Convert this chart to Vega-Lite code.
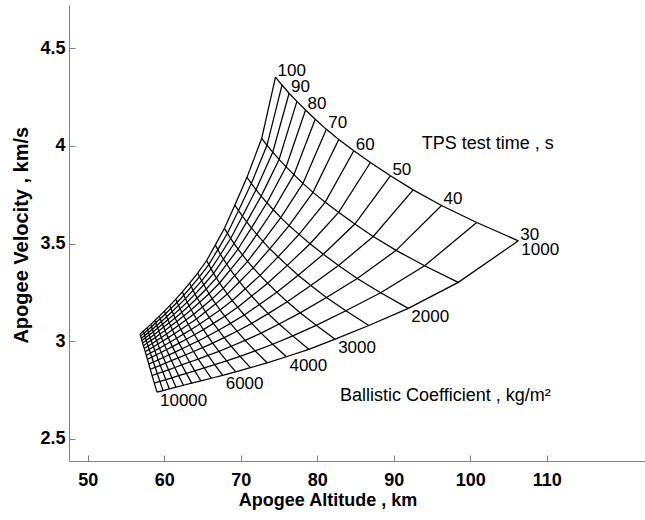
{
"$schema":"https://vega.github.io/schema/vega-lite/v6.json",
"width":576,"height":456,
"autosize":{"type":"none"},
"padding":{"left":69,"top":5,"right":0,"bottom":59},
"background":"white",
"config":{"view":{"stroke":null},"font":"Liberation Sans"},
"datasets":{
"grid":[
{"t":100,"b":1000,"x":74.55,"y":4.353},{"t":100,"b":1500,"x":72.75,"y":4.039},{"t":100,"b":2000,"x":70.82,"y":3.839},{"t":100,"b":2500,"x":69.25,"y":3.697},{"t":100,"b":3000,"x":67.88,"y":3.578},{"t":100,"b":3500,"x":66.68,"y":3.492},{"t":100,"b":4000,"x":65.55,"y":3.413},{"t":100,"b":4500,"x":64.38,"y":3.349},{"t":100,"b":5000,"x":63.33,"y":3.297},{"t":100,"b":5500,"x":62.38,"y":3.252},{"t":100,"b":6000,"x":61.52,"y":3.215},{"t":100,"b":6500,"x":60.73,"y":3.182},{"t":100,"b":7000,"x":60.03,"y":3.154},{"t":100,"b":7500,"x":59.37,"y":3.128},{"t":100,"b":8000,"x":58.78,"y":3.106},{"t":100,"b":8500,"x":58.25,"y":3.086},{"t":100,"b":9000,"x":57.75,"y":3.068},{"t":100,"b":9500,"x":57.28,"y":3.052},{"t":100,"b":10000,"x":56.84,"y":3.036},
{"t":95,"b":1000,"x":75.40,"y":4.312},{"t":95,"b":1500,"x":73.44,"y":4.003},{"t":95,"b":2000,"x":71.39,"y":3.808},{"t":95,"b":2500,"x":69.72,"y":3.669},{"t":95,"b":3000,"x":68.27,"y":3.553},{"t":95,"b":3500,"x":67.01,"y":3.469},{"t":95,"b":4000,"x":65.83,"y":3.392},{"t":95,"b":4500,"x":64.62,"y":3.330},{"t":95,"b":5000,"x":63.55,"y":3.279},{"t":95,"b":5500,"x":62.57,"y":3.235},{"t":95,"b":6000,"x":61.69,"y":3.199},{"t":95,"b":6500,"x":60.88,"y":3.167},{"t":95,"b":7000,"x":60.17,"y":3.140},{"t":95,"b":7500,"x":59.49,"y":3.115},{"t":95,"b":8000,"x":58.89,"y":3.094},{"t":95,"b":8500,"x":58.35,"y":3.074},{"t":95,"b":9000,"x":57.85,"y":3.057},{"t":95,"b":9500,"x":57.37,"y":3.041},{"t":95,"b":10000,"x":56.92,"y":3.026},
{"t":90,"b":1000,"x":76.33,"y":4.270},{"t":90,"b":1500,"x":74.19,"y":3.968},{"t":90,"b":2000,"x":72.00,"y":3.776},{"t":90,"b":2500,"x":70.23,"y":3.640},{"t":90,"b":3000,"x":68.69,"y":3.526},{"t":90,"b":3500,"x":67.36,"y":3.444},{"t":90,"b":4000,"x":66.13,"y":3.370},{"t":90,"b":4500,"x":64.89,"y":3.309},{"t":90,"b":5000,"x":63.78,"y":3.260},{"t":90,"b":5500,"x":62.78,"y":3.218},{"t":90,"b":6000,"x":61.88,"y":3.183},{"t":90,"b":6500,"x":61.05,"y":3.152},{"t":90,"b":7000,"x":60.32,"y":3.125},{"t":90,"b":7500,"x":59.63,"y":3.101},{"t":90,"b":8000,"x":59.02,"y":3.080},{"t":90,"b":8500,"x":58.46,"y":3.061},{"t":90,"b":9000,"x":57.95,"y":3.044},{"t":90,"b":9500,"x":57.46,"y":3.029},{"t":90,"b":10000,"x":57.00,"y":3.014},
{"t":85,"b":1000,"x":77.35,"y":4.228},{"t":85,"b":1500,"x":75.02,"y":3.931},{"t":85,"b":2000,"x":72.68,"y":3.743},{"t":85,"b":2500,"x":70.79,"y":3.611},{"t":85,"b":3000,"x":69.15,"y":3.500},{"t":85,"b":3500,"x":67.75,"y":3.420},{"t":85,"b":4000,"x":66.46,"y":3.347},{"t":85,"b":4500,"x":65.18,"y":3.289},{"t":85,"b":5000,"x":64.03,"y":3.241},{"t":85,"b":5500,"x":63.01,"y":3.200},{"t":85,"b":6000,"x":62.08,"y":3.166},{"t":85,"b":6500,"x":61.23,"y":3.136},{"t":85,"b":7000,"x":60.48,"y":3.110},{"t":85,"b":7500,"x":59.78,"y":3.087},{"t":85,"b":8000,"x":59.15,"y":3.067},{"t":85,"b":8500,"x":58.58,"y":3.048},{"t":85,"b":9000,"x":58.05,"y":3.032},{"t":85,"b":9500,"x":57.56,"y":3.017},{"t":85,"b":10000,"x":57.09,"y":3.003},
{"t":80,"b":1000,"x":78.48,"y":4.184},{"t":80,"b":1500,"x":75.94,"y":3.893},{"t":80,"b":2000,"x":73.43,"y":3.709},{"t":80,"b":2500,"x":71.41,"y":3.580},{"t":80,"b":3000,"x":69.66,"y":3.472},{"t":80,"b":3500,"x":68.18,"y":3.394},{"t":80,"b":4000,"x":66.83,"y":3.324},{"t":80,"b":4500,"x":65.50,"y":3.267},{"t":80,"b":5000,"x":64.32,"y":3.221},{"t":80,"b":5500,"x":63.26,"y":3.181},{"t":80,"b":6000,"x":62.30,"y":3.148},{"t":80,"b":6500,"x":61.43,"y":3.119},{"t":80,"b":7000,"x":60.66,"y":3.094},{"t":80,"b":7500,"x":59.93,"y":3.072},{"t":80,"b":8000,"x":59.29,"y":3.052},{"t":80,"b":8500,"x":58.71,"y":3.034},{"t":80,"b":9000,"x":58.17,"y":3.018},{"t":80,"b":9500,"x":57.66,"y":3.004},{"t":80,"b":10000,"x":57.18,"y":2.990},
{"t":75,"b":1000,"x":79.74,"y":4.137},{"t":75,"b":1500,"x":76.96,"y":3.853},{"t":75,"b":2000,"x":74.27,"y":3.673},{"t":75,"b":2500,"x":72.11,"y":3.547},{"t":75,"b":3000,"x":70.24,"y":3.442},{"t":75,"b":3500,"x":68.66,"y":3.366},{"t":75,"b":4000,"x":67.24,"y":3.298},{"t":75,"b":4500,"x":65.86,"y":3.243},{"t":75,"b":5000,"x":64.64,"y":3.199},{"t":75,"b":5500,"x":63.54,"y":3.161},{"t":75,"b":6000,"x":62.55,"y":3.129},{"t":75,"b":6500,"x":61.65,"y":3.101},{"t":75,"b":7000,"x":60.85,"y":3.077},{"t":75,"b":7500,"x":60.11,"y":3.055},{"t":75,"b":8000,"x":59.45,"y":3.037},{"t":75,"b":8500,"x":58.85,"y":3.019},{"t":75,"b":9000,"x":58.30,"y":3.004},{"t":75,"b":9500,"x":57.77,"y":2.991},{"t":75,"b":10000,"x":57.28,"y":2.977},
{"t":70,"b":1000,"x":81.20,"y":4.085},{"t":70,"b":1500,"x":78.14,"y":3.808},{"t":70,"b":2000,"x":75.24,"y":3.633},{"t":70,"b":2500,"x":72.91,"y":3.511},{"t":70,"b":3000,"x":70.90,"y":3.409},{"t":70,"b":3500,"x":69.22,"y":3.336},{"t":70,"b":4000,"x":67.72,"y":3.270},{"t":70,"b":4500,"x":66.28,"y":3.217},{"t":70,"b":5000,"x":65.00,"y":3.175},{"t":70,"b":5500,"x":63.86,"y":3.138},{"t":70,"b":6000,"x":62.84,"y":3.108},{"t":70,"b":6500,"x":61.90,"y":3.081},{"t":70,"b":7000,"x":61.08,"y":3.058},{"t":70,"b":7500,"x":60.31,"y":3.037},{"t":70,"b":8000,"x":59.63,"y":3.019},{"t":70,"b":8500,"x":59.01,"y":3.003},{"t":70,"b":9000,"x":58.44,"y":2.988},{"t":70,"b":9500,"x":57.90,"y":2.975},{"t":70,"b":10000,"x":57.40,"y":2.962},
{"t":65,"b":1000,"x":82.82,"y":4.033},{"t":65,"b":1500,"x":79.45,"y":3.762},{"t":65,"b":2000,"x":76.32,"y":3.592},{"t":65,"b":2500,"x":73.80,"y":3.473},{"t":65,"b":3000,"x":71.64,"y":3.375},{"t":65,"b":3500,"x":69.85,"y":3.304},{"t":65,"b":4000,"x":68.26,"y":3.241},{"t":65,"b":4500,"x":66.74,"y":3.191},{"t":65,"b":5000,"x":65.41,"y":3.150},{"t":65,"b":5500,"x":64.22,"y":3.114},{"t":65,"b":6000,"x":63.15,"y":3.085},{"t":65,"b":6500,"x":62.18,"y":3.060},{"t":65,"b":7000,"x":61.32,"y":3.038},{"t":65,"b":7500,"x":60.53,"y":3.018},{"t":65,"b":8000,"x":59.82,"y":3.001},{"t":65,"b":8500,"x":59.18,"y":2.985},{"t":65,"b":9000,"x":58.60,"y":2.971},{"t":65,"b":9500,"x":58.04,"y":2.958},{"t":65,"b":10000,"x":57.52,"y":2.946},
{"t":60,"b":1000,"x":84.79,"y":3.975},{"t":60,"b":1500,"x":81.05,"y":3.712},{"t":60,"b":2000,"x":77.63,"y":3.547},{"t":60,"b":2500,"x":74.89,"y":3.432},{"t":60,"b":3000,"x":72.53,"y":3.337},{"t":60,"b":3500,"x":70.61,"y":3.268},{"t":60,"b":4000,"x":68.90,"y":3.208},{"t":60,"b":4500,"x":67.30,"y":3.160},{"t":60,"b":5000,"x":65.90,"y":3.121},{"t":60,"b":5500,"x":64.65,"y":3.088},{"t":60,"b":6000,"x":63.53,"y":3.060},{"t":60,"b":6500,"x":62.52,"y":3.036},{"t":60,"b":7000,"x":61.62,"y":3.015},{"t":60,"b":7500,"x":60.79,"y":2.996},{"t":60,"b":8000,"x":60.05,"y":2.979},{"t":60,"b":8500,"x":59.39,"y":2.964},{"t":60,"b":9000,"x":58.78,"y":2.951},{"t":60,"b":9500,"x":58.20,"y":2.939},{"t":60,"b":10000,"x":57.66,"y":2.927},
{"t":55,"b":1000,"x":86.96,"y":3.915},{"t":55,"b":1500,"x":82.80,"y":3.660},{"t":55,"b":2000,"x":79.07,"y":3.499},{"t":55,"b":2500,"x":76.09,"y":3.388},{"t":55,"b":3000,"x":73.52,"y":3.297},{"t":55,"b":3500,"x":71.44,"y":3.231},{"t":55,"b":4000,"x":69.61,"y":3.174},{"t":55,"b":4500,"x":67.92,"y":3.128},{"t":55,"b":5000,"x":66.44,"y":3.091},{"t":55,"b":5500,"x":65.13,"y":3.059},{"t":55,"b":6000,"x":63.95,"y":3.033},{"t":55,"b":6500,"x":62.89,"y":3.010},{"t":55,"b":7000,"x":61.94,"y":2.990},{"t":55,"b":7500,"x":61.08,"y":2.972},{"t":55,"b":8000,"x":60.31,"y":2.957},{"t":55,"b":8500,"x":59.62,"y":2.942},{"t":55,"b":9000,"x":58.98,"y":2.930},{"t":55,"b":9500,"x":58.38,"y":2.918},{"t":55,"b":10000,"x":57.81,"y":2.907},
{"t":50,"b":1000,"x":89.57,"y":3.847},{"t":50,"b":1500,"x":84.92,"y":3.600},{"t":50,"b":2000,"x":80.80,"y":3.445},{"t":50,"b":2500,"x":77.52,"y":3.338},{"t":50,"b":3000,"x":74.72,"y":3.251},{"t":50,"b":3500,"x":72.45,"y":3.188},{"t":50,"b":4000,"x":70.47,"y":3.134},{"t":50,"b":4500,"x":68.67,"y":3.091},{"t":50,"b":5000,"x":67.10,"y":3.056},{"t":50,"b":5500,"x":65.70,"y":3.026},{"t":50,"b":6000,"x":64.45,"y":3.001},{"t":50,"b":6500,"x":63.33,"y":2.980},{"t":50,"b":7000,"x":62.34,"y":2.961},{"t":50,"b":7500,"x":61.43,"y":2.944},{"t":50,"b":8000,"x":60.62,"y":2.930},{"t":50,"b":8500,"x":59.89,"y":2.916},{"t":50,"b":9000,"x":59.22,"y":2.904},{"t":50,"b":9500,"x":58.58,"y":2.893},{"t":50,"b":10000,"x":57.99,"y":2.883},
{"t":45,"b":1000,"x":92.55,"y":3.775},{"t":45,"b":1500,"x":87.33,"y":3.536},{"t":45,"b":2000,"x":82.79,"y":3.387},{"t":45,"b":2500,"x":79.17,"y":3.285},{"t":45,"b":3000,"x":76.08,"y":3.202},{"t":45,"b":3500,"x":73.60,"y":3.141},{"t":45,"b":4000,"x":71.45,"y":3.091},{"t":45,"b":4500,"x":69.52,"y":3.051},{"t":45,"b":5000,"x":67.84,"y":3.018},{"t":45,"b":5500,"x":66.35,"y":2.990},{"t":45,"b":6000,"x":65.03,"y":2.967},{"t":45,"b":6500,"x":63.84,"y":2.947},{"t":45,"b":7000,"x":62.78,"y":2.930},{"t":45,"b":7500,"x":61.82,"y":2.914},{"t":45,"b":8000,"x":60.96,"y":2.900},{"t":45,"b":8500,"x":60.19,"y":2.888},{"t":45,"b":9000,"x":59.49,"y":2.876},{"t":45,"b":9500,"x":58.82,"y":2.866},{"t":45,"b":10000,"x":58.18,"y":2.856},
{"t":40,"b":1000,"x":96.25,"y":3.695},{"t":40,"b":1500,"x":90.32,"y":3.465},{"t":40,"b":2000,"x":85.24,"y":3.321},{"t":40,"b":2500,"x":81.21,"y":3.224},{"t":40,"b":3000,"x":77.77,"y":3.145},{"t":40,"b":3500,"x":75.02,"y":3.088},{"t":40,"b":4000,"x":72.67,"y":3.041},{"t":40,"b":4500,"x":70.58,"y":3.004},{"t":40,"b":5000,"x":68.77,"y":2.974},{"t":40,"b":5500,"x":67.16,"y":2.948},{"t":40,"b":6000,"x":65.73,"y":2.927},{"t":40,"b":6500,"x":64.46,"y":2.908},{"t":40,"b":7000,"x":63.32,"y":2.893},{"t":40,"b":7500,"x":62.30,"y":2.878},{"t":40,"b":8000,"x":61.38,"y":2.865},{"t":40,"b":8500,"x":60.56,"y":2.853},{"t":40,"b":9000,"x":59.81,"y":2.843},{"t":40,"b":9500,"x":59.10,"y":2.834},{"t":40,"b":10000,"x":58.42,"y":2.824},
{"t":35,"b":1000,"x":100.85,"y":3.608},{"t":35,"b":1500,"x":94.04,"y":3.386},{"t":35,"b":2000,"x":88.30,"y":3.248},{"t":35,"b":2500,"x":83.75,"y":3.156},{"t":35,"b":3000,"x":79.87,"y":3.081},{"t":35,"b":3500,"x":76.80,"y":3.027},{"t":35,"b":4000,"x":74.19,"y":2.984},{"t":35,"b":4500,"x":71.89,"y":2.950},{"t":35,"b":5000,"x":69.91,"y":2.922},{"t":35,"b":5500,"x":68.16,"y":2.899},{"t":35,"b":6000,"x":66.61,"y":2.880},{"t":35,"b":6500,"x":65.23,"y":2.863},{"t":35,"b":7000,"x":64.00,"y":2.848},{"t":35,"b":7500,"x":62.90,"y":2.835},{"t":35,"b":8000,"x":61.90,"y":2.823},{"t":35,"b":8500,"x":61.01,"y":2.812},{"t":35,"b":9000,"x":60.21,"y":2.803},{"t":35,"b":9500,"x":59.44,"y":2.794},{"t":35,"b":10000,"x":58.71,"y":2.785},
{"t":30,"b":1000,"x":106.29,"y":3.514},{"t":30,"b":1500,"x":98.44,"y":3.301},{"t":30,"b":2000,"x":91.91,"y":3.168},{"t":30,"b":2500,"x":86.75,"y":3.080},{"t":30,"b":3000,"x":82.35,"y":3.010},{"t":30,"b":3500,"x":78.90,"y":2.958},{"t":30,"b":4000,"x":75.98,"y":2.920},{"t":30,"b":4500,"x":73.45,"y":2.889},{"t":30,"b":5000,"x":71.27,"y":2.864},{"t":30,"b":5500,"x":69.35,"y":2.843},{"t":30,"b":6000,"x":67.65,"y":2.825},{"t":30,"b":6500,"x":66.15,"y":2.810},{"t":30,"b":7000,"x":64.80,"y":2.797},{"t":30,"b":7500,"x":63.60,"y":2.785},{"t":30,"b":8000,"x":62.52,"y":2.774},{"t":30,"b":8500,"x":61.55,"y":2.764},{"t":30,"b":9000,"x":60.68,"y":2.755},{"t":30,"b":9500,"x":59.85,"y":2.747},{"t":30,"b":10000,"x":59.06,"y":2.739}
],
"tlab":[
{"lab":"100","x":74.55,"y":4.353},{"lab":"90","x":76.33,"y":4.270},{"lab":"80","x":78.48,"y":4.184},{"lab":"70","x":81.20,"y":4.085},{"lab":"60","x":84.79,"y":3.975},{"lab":"50","x":89.57,"y":3.847},{"lab":"40","x":96.25,"y":3.695},{"lab":"30","x":106.29,"y":3.514}
],
"blab":[
{"lab":"1000","x":106.29,"y":3.514},{"lab":"2000","x":91.91,"y":3.168},{"lab":"3000","x":82.35,"y":3.010},{"lab":"4000","x":75.98,"y":2.920},{"lab":"6000","x":67.65,"y":2.825},{"lab":"10000","x":59.06,"y":2.739}
],
"ann":[
{"txt":"TPS test time , s","x":93.66,"y":3.984},{"txt":"Ballistic Coefficient , kg/m²","x":82.98,"y":2.693}
]
},
"layer":[
{"data":{"name":"grid"},"mark":{"type":"line","color":"black","strokeWidth":1.25},
 "encoding":{
  "x":{"field":"x","type":"quantitative","scale":{"domain":[47.56,122.85],"nice":false,"zero":false},
   "axis":{"values":[50,60,70,80,90,100,110],"format":"~g","title":"Apogee Altitude , km","grid":false,
    "tickSize":-6,"labelPadding":16,"domainColor":"#808080","tickColor":"#808080",
    "labelFont":"Liberation Sans","labelFontWeight":"bold","labelFontSize":18,"labelColor":"black",
    "titleFont":"Liberation Sans","titleFontWeight":"bold","titleFontSize":18,"titleColor":"black",
    "titleX":258.5,"titleY":44,"titleBaseline":"alphabetic","titleAlign":"center"}},
  "y":{"field":"y","type":"quantitative","scale":{"domain":[2.386,4.722],"nice":false,"zero":false},
   "axis":{"values":[2.5,3,3.5,4,4.5],"format":"~g","title":"Apogee Velocity , km/s","grid":false,
    "tickSize":-6,"labelPadding":10,"domainColor":"#808080","tickColor":"#808080",
    "labelFont":"Liberation Sans","labelFontWeight":"bold","labelFontSize":18,"labelColor":"black",
    "titleFont":"Liberation Sans","titleFontWeight":"bold","titleFontSize":20,"titleColor":"black",
    "titleX":-41.5,"titleY":229.7,"titleBaseline":"alphabetic","titleAlign":"center","titleAngle":-90}},
  "detail":{"field":"t","type":"nominal"},
  "order":{"field":"b","type":"quantitative"}
 }},
{"data":{"name":"grid"},"mark":{"type":"line","color":"black","strokeWidth":1.25},
 "encoding":{
  "x":{"field":"x","type":"quantitative"},
  "y":{"field":"y","type":"quantitative"},
  "detail":{"field":"b","type":"nominal"},
  "order":{"field":"t","type":"quantitative"}
 }},
{"data":{"name":"tlab"},"mark":{"type":"text","align":"left","baseline":"alphabetic","dx":2,"dy":-1,"fontSize":17,"font":"Liberation Sans","color":"black"},
 "encoding":{"x":{"field":"x","type":"quantitative"},"y":{"field":"y","type":"quantitative"},"text":{"field":"lab"}}},
{"data":{"name":"blab"},"mark":{"type":"text","align":"left","baseline":"top","dx":3,"dy":1,"fontSize":17,"font":"Liberation Sans","color":"black"},
 "encoding":{"x":{"field":"x","type":"quantitative"},"y":{"field":"y","type":"quantitative"},"text":{"field":"lab"}}},
{"data":{"name":"ann"},"mark":{"type":"text","align":"left","baseline":"alphabetic","fontSize":18,"font":"Liberation Sans","color":"black"},
 "encoding":{"x":{"field":"x","type":"quantitative"},"y":{"field":"y","type":"quantitative"},"text":{"field":"txt"}}}
]
}
